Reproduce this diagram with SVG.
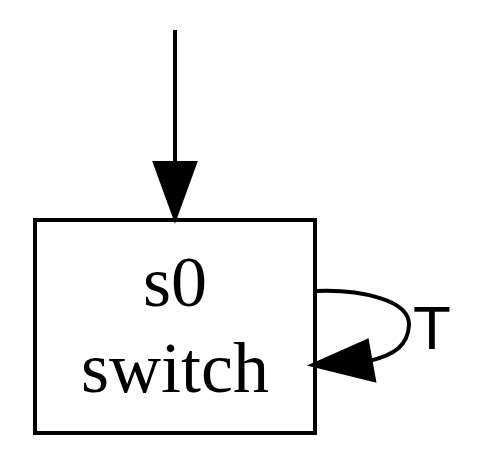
<svg xmlns="http://www.w3.org/2000/svg" width="485" height="449" viewBox="0 0 485 449">
<style>
.e{fill:none;stroke:#000;stroke-width:4}
.h{fill:#000;stroke:#000;stroke-width:4}
.n{font-family:"Liberation Serif",serif;font-size:72px;text-anchor:middle;fill:#000}
.l{font-family:"Liberation Sans",sans-serif;font-size:62px;text-anchor:middle;fill:#000}
</style>
<rect width="485" height="449" fill="#fff"/>
<g id="edges">
<path class="e" d="M175,30 V163"/>
<polygon class="h" points="155,163 195,163 175,218"/>
<path class="e" d="M315,291 C360,289 410,300 409,325 C408,345 395,355 369,361"/>
<polygon class="h" points="313,365 367,341 374,380"/>
<text class="l" x="432" y="349">T</text>
</g>
<g id="s0">
<rect x="35" y="220" width="280" height="213" fill="none" stroke="#000" stroke-width="4"/>
<text class="n" x="175" y="306">s0</text>
<text class="n" x="175" y="392">switch</text>
</g>
</svg>
